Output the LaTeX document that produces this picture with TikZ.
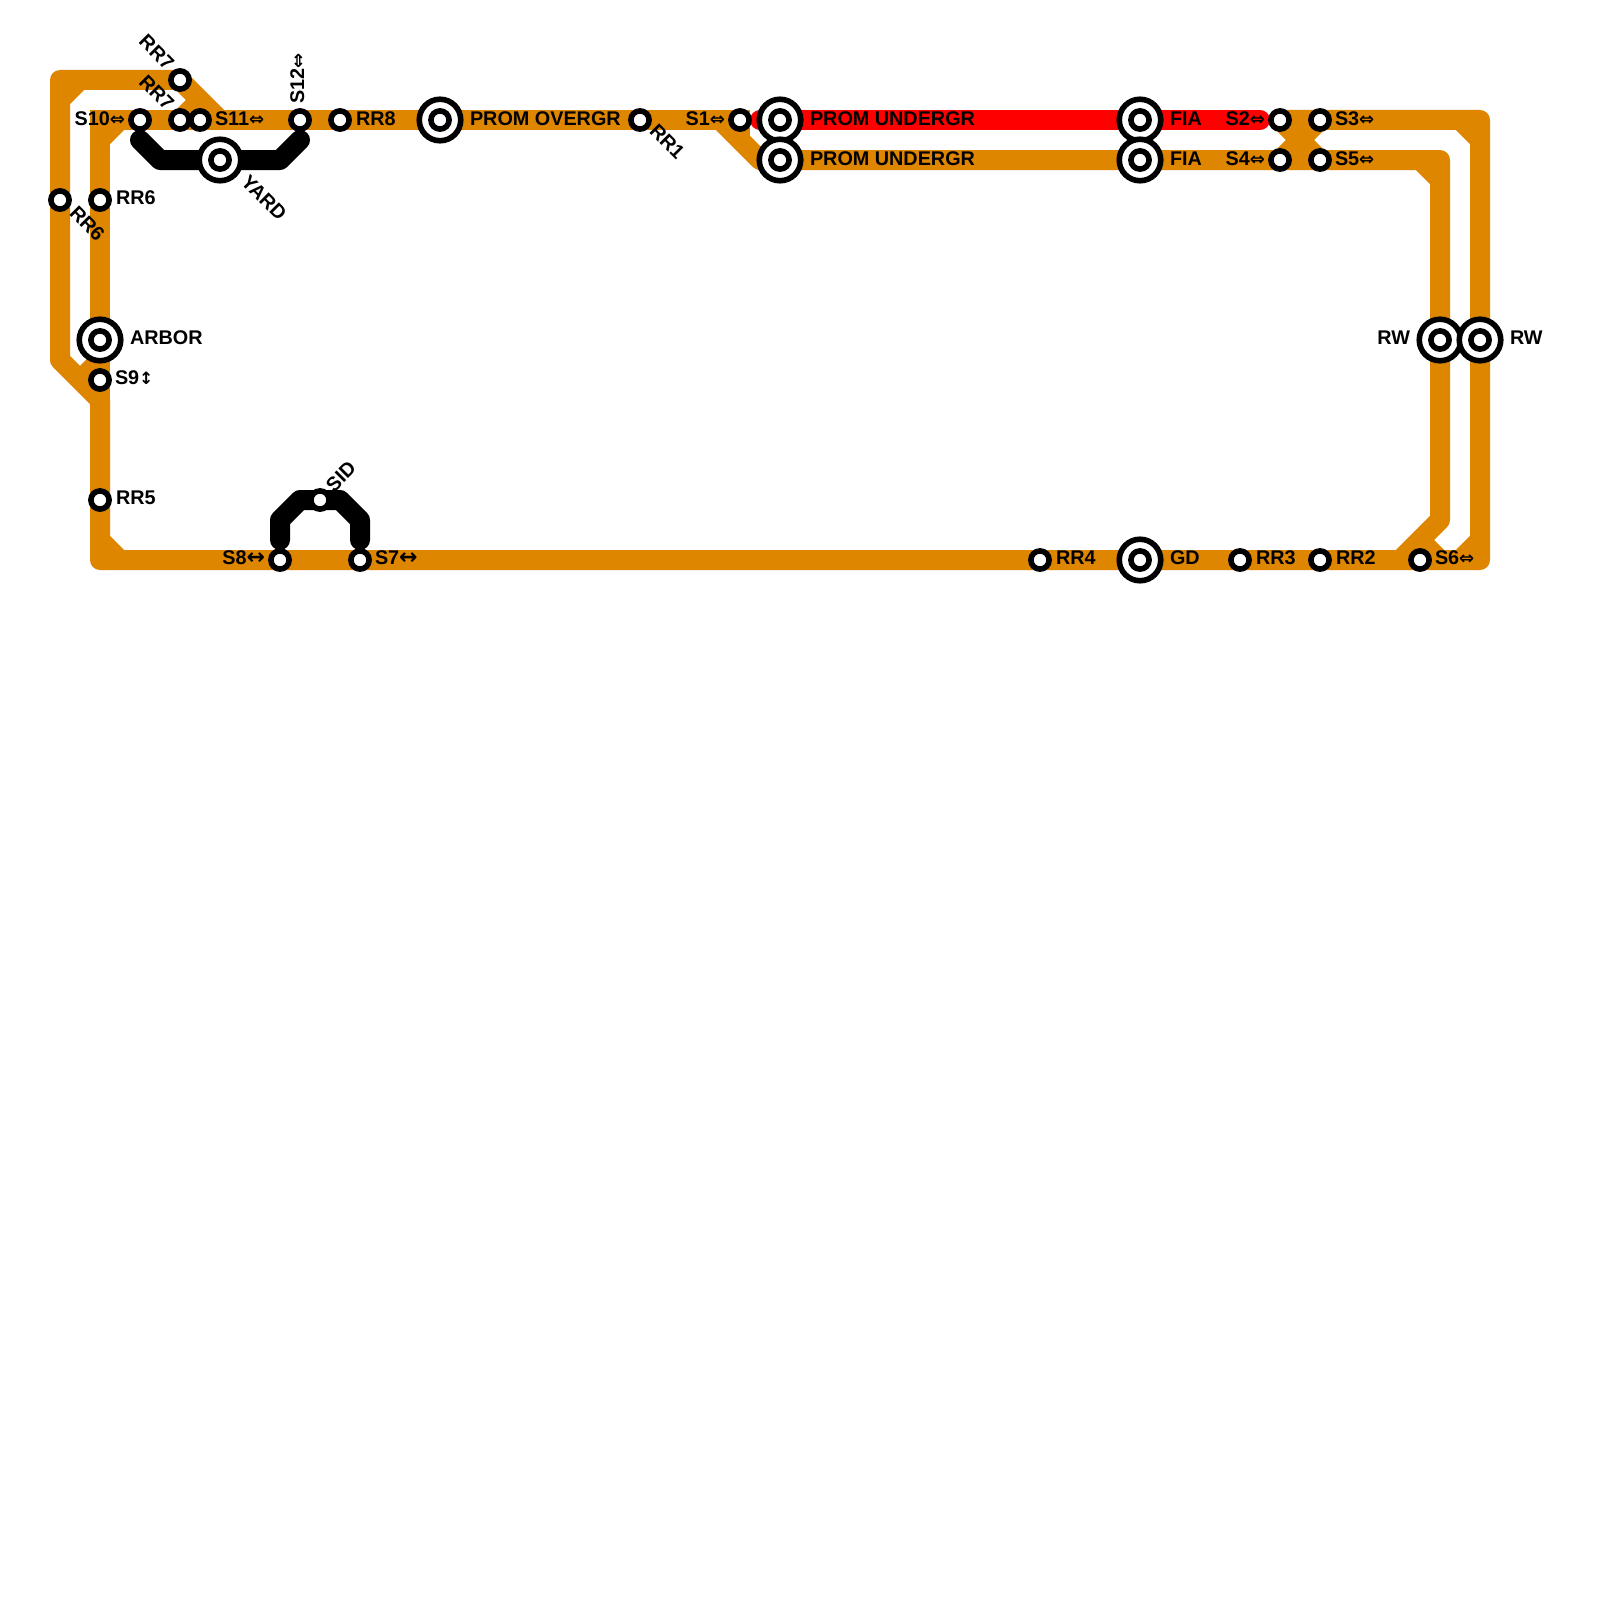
\documentclass[tikz,border=0pt]{standalone}
\usepackage{fontspec}
\setmainfont{Liberation Sans}[BoldFont={Liberation Sans Bold}]
\newfontfamily\arrowfont{DejaVu Sans}
\newcommand{\dbl}{{\arrowfont\fontsize{18}{18}\selectfont ⇔}}
\newcommand{\hor}{{\arrowfont\fontsize{22}{22}\selectfont ↔}}
\newcommand{\ver}{{\arrowfont\fontsize{17}{17}\selectfont ↕}}
\pgfdeclarelayer{lines}
\pgfsetlayers{lines,main}
\definecolor{orangeline}{HTML}{DF8600}
\tikzset{
  every node/.style={inner sep=0pt,outer sep=0pt},
  orangepath/.style={draw=orangeline,line width=20pt,line join=round,line cap=butt},
  redpath/.style={draw=red,line width=20pt,line cap=round},
  blackpath/.style={draw=black,line width=20pt,line join=round,line cap=round},
  smallst/.style={circle,draw=black,line width=5.6pt,fill=white,minimum size=18.2pt},
  bigst/.style={circle,draw=black,line width=5.6pt,fill=white,minimum size=41.5pt},
  lbl/.style={font=\bfseries\fontsize{19.8}{20}\selectfont,text=black},
  lw/.style={lbl,anchor=base west},
  le/.style={lbl,anchor=base east},
}
\begin{document}
\begin{tikzpicture}[x=1pt,y=-1pt]
\useasboundingbox (0,0) rectangle (1600,1600);
% bends
\foreach \n/\x/\y in {
 tl/60/80, tla/60/100, tlb/80/80, ml/60/360, mr/100/400, mi/100/360, mj/80/380,
 bl/100/560, bla/100/540, blb/120/560, br/1480/560, bra/1480/540, brb/1460/560,
 tr/1480/120, tra/1460/120, trb/1480/140, s3end/1280/120,
 dtip/220/120, dn/200/100, ia/100/120, ib/100/140, ic/120/120, sa/740/140,
 ua/720/120, ub/760/160, rc/1440/160, rca/1420/160, rcb/1440/180, rd/1440/520, re/1400/560,
 rf/1420/540, rg/1440/560, xa/1280/160, xb/1320/160,
 ya/140/140, yb/160/160, yc/280/160, yd/300/140,
 za/280/540, zb/280/520, zc/300/500, zd/340/500, ze/360/520, zf/360/540,
 rstart/760/120, rend/1260/120}
 {\coordinate (\n) at (\x,\y);}
% stations
\node[smallst] (rr7u) at (180,80) {};
\node[smallst] (s10) at (140,120) {};
\node[smallst] (rr7l) at (180,120) {};
\node[smallst] (s11) at (200,120) {};
\node[smallst] (s12) at (300,120) {};
\node[smallst] (rr8) at (340,120) {};
\node[smallst] (rr1) at (640,120) {};
\node[smallst] (s1) at (740,120) {};
\node[smallst] (s2) at (1280,120) {};
\node[smallst] (s3) at (1320,120) {};
\node[smallst] (s4) at (1280,160) {};
\node[smallst] (s5) at (1320,160) {};
\node[smallst] (rr6l) at (60,200) {};
\node[smallst] (rr6r) at (100,200) {};
\node[smallst] (s9) at (100,380) {};
\node[smallst] (rr5) at (100,500) {};
\node[smallst] (s8) at (280,560) {};
\node[smallst] (s7) at (360,560) {};
\node[smallst] (sid) at (320,500) {};
\node[smallst] (rr4) at (1040,560) {};
\node[smallst] (rr3) at (1240,560) {};
\node[smallst] (rr2) at (1320,560) {};
\node[smallst] (s6) at (1420,560) {};
\foreach \n/\x/\y in {yard/220/160, arbor/100/340, over/440/120, promu/780/120, proml/780/160,
  fiau/1140/120, fial/1140/160, gd/1140/560, rwl/1440/340, rwr/1480/340} {
  \node[bigst] (\n) at (\x,\y) {};
  \node[smallst] (\n i) at (\x,\y) {};
}
% lines
\begin{pgfonlayer}{lines}
\fill[white] (0,0) rectangle (1600,1600);
\draw[orangepath] (rr7u.center) -- (tl) -- (ml) -- (mr) -- (bl) -- (br) -- (tr) -- (s3end);
\draw[orangepath] (tla) -- (tlb);
\draw[orangepath] (mi) -- (mj);
\draw[orangepath] (bla) -- (blb);
\draw[orangepath] (bra) -- (brb);
\draw[orangepath] (tra) -- (trb);
\draw[orangepath] (rr7u.center) -- (dtip);
\draw[orangepath] (rr7l.center) -- (dn);
\draw[orangepath,line join=miter] (mr) -- (ia) -- (s1.center) -- (sa);
\draw[orangepath] (ib) -- (ic);
\draw[orangepath] (ua) -- (ub) -- (rc) -- (rd) -- (re);
\draw[orangepath] (rca) -- (rcb);
\draw[orangepath] (rf) -- (rg);
\draw[orangepath] (s2.center) -- (s5.center);
\draw[orangepath] (s3.center) -- (s4.center);
\draw[redpath] (rstart) -- (rend);
\draw[blackpath] (ya) -- (yb) -- (yc) -- (yd);
\draw[blackpath] (za) -- (zb) -- (zc) -- (zd) -- (ze) -- (zf);
\end{pgfonlayer}
% labels
\node[le] (t1) at (125,125) {S10\dbl};
\node[lw] (t2) at (215,125) {S11\dbl};
\node[lw] (t3) at (356,125) {RR8};
\node[lw] (t4) at (470,125) {PROM OVERGR};
\node[le] (t5) at (725,125) {S1\dbl};
\node[lw] (t6) at (810,125) {PROM UNDERGR};
\node[lw] (t7) at (810,165) {PROM UNDERGR};
\node[lw] (t8) at (1170,125) {FIA};
\node[lw] (t9) at (1170,165) {FIA};
\node[le] (t10) at (1265,125) {S2\dbl};
\node[le] (t11) at (1265,165) {S4\dbl};
\node[lw] (t12) at (1335,125) {S3\dbl};
\node[lw] (t13) at (1335,165) {S5\dbl};
\node[lw] (t14) at (116,204.5) {RR6};
\node[lw] (t15) at (130,344) {ARBOR};
\node[lw] (t16) at (115,384) {S9\ver};
\node[lw] (t17) at (116,504) {RR5};
\node[le] (t18) at (265,564) {S8\hor};
\node[lw] (t19) at (375,564) {S7\hor};
\node[lw] (t20) at (1056,564.5) {RR4};
\node[lw] (t21) at (1170,564.5) {GD};
\node[lw] (t22) at (1256,564.5) {RR3};
\node[lw] (t23) at (1336,564.5) {RR2};
\node[lw] (t24) at (1435,564.5) {S6\dbl};
\node[le] (t25) at (1410,344) {RW};
\node[lw] (t26) at (1510,344) {RW};
\node[lbl,anchor=base west,rotate=-45] (t27) at (68.5,214.5) {RR6};
\node[lbl,anchor=base west,rotate=-45] (t28) at (648.5,132.5) {RR1};
\node[lbl,anchor=base west,rotate=-45] (t29) at (240,183) {YARD};
\node[lbl,anchor=base east,rotate=-45] (t30) at (166,71) {RR7};
\node[lbl,anchor=base east,rotate=-45] (t31) at (166,111.5) {RR7};
\node[lbl,anchor=base west,rotate=90] (t32) at (304,104) {S12\dbl};
\node[lbl,anchor=base west,rotate=45] (t33) at (334,493) {SID};
\end{tikzpicture}
\end{document}
